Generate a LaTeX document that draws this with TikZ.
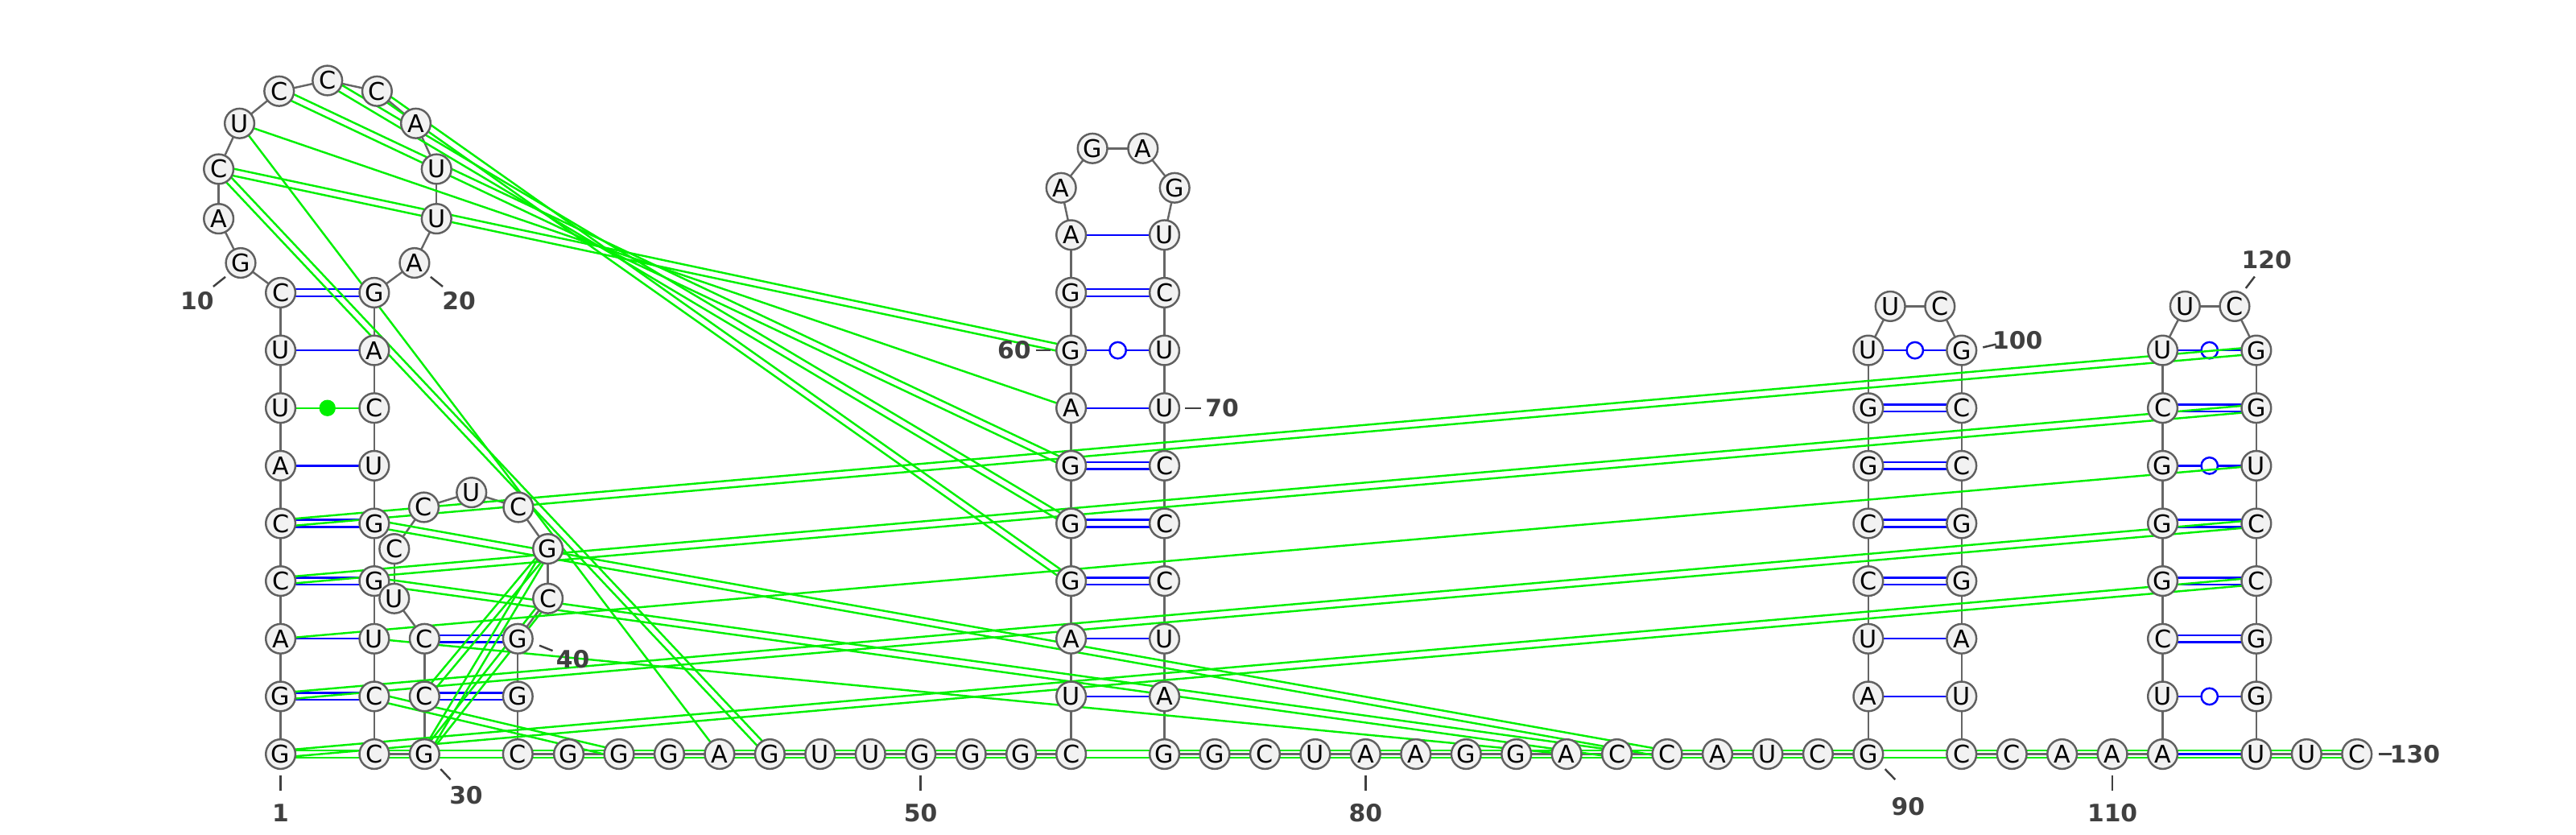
\documentclass[tikz,border=0pt]{standalone}
\usepackage{fontspec}
\setmainfont{DejaVu Sans}
\usetikzlibrary{calc}
\pgfdeclarelayer{background}
\pgfsetlayers{background,main}
\definecolor{grn}{RGB}{0,240,0}
\definecolor{blu}{RGB}{0,0,255}
\definecolor{bbgrey}{RGB}{102,102,102}
\definecolor{ntfill}{RGB}{242,242,242}
\definecolor{ntdraw}{RGB}{96,96,96}
\definecolor{numcol}{RGB}{64,64,64}
\def\pairoff{1.05pt}
\newcommand{\bpS}[2]{\draw[bpl] (n#1.center) -- (n#2.center);}
\newcommand{\bpD}[2]{%
  \draw[bpl] ($(n#1.center)!\pairoff!90:(n#2.center)$) -- ($(n#2.center)!\pairoff!-90:(n#1.center)$);
  \draw[bpl] ($(n#1.center)!\pairoff!-90:(n#2.center)$) -- ($(n#2.center)!\pairoff!90:(n#1.center)$);}
\newcommand{\bpW}[2]{\draw[bpl] (n#1.center) -- (n#2.center);
  \node[wob] (w#1) at ($(n#1.center)!0.5!(n#2.center)$) {};}
\newcommand{\gpS}[2]{\draw[gpl] (n#1.center) -- (n#2.center);}
\newcommand{\gpD}[2]{%
  \draw[gpl] ($(n#1.center)!\pairoff!90:(n#2.center)$) -- ($(n#2.center)!\pairoff!-90:(n#1.center)$);
  \draw[gpl] ($(n#1.center)!\pairoff!-90:(n#2.center)$) -- ($(n#2.center)!\pairoff!90:(n#1.center)$);}
\begin{document}
\begin{tikzpicture}[x=0.5pt,y=-0.5pt,
  nt/.style={circle,draw=ntdraw,fill=ntfill,line width=0.6pt,minimum size=9pt,inner sep=0pt,font=\fontsize{7.4}{8}\selectfont},
  bb/.style={draw=bbgrey,line width=0.6pt},
  bpl/.style={draw=blu,line width=0.6pt},
  gpl/.style={draw=grn,line width=0.6pt},
  wob/.style={circle,draw=blu,fill=white,line width=0.6pt,minimum size=5pt,inner sep=0pt},
  gdot/.style={circle,fill=grn,minimum size=5pt,inner sep=0pt},
  num/.style={font=\bfseries\fontsize{7.3}{8}\selectfont,text=numcol,inner sep=0pt},
  tick/.style={draw=numcol,line width=0.6pt}]
\useasboundingbox (0,0) rectangle (1568,508);
\foreach \a/\b/\c/\d in {
 1/170.8/458.9/G, 2/170.8/423.8/G, 3/170.8/388.7/A, 4/170.8/353.6/C, 5/170.8/318.5/C,
 6/170.8/283.4/A, 7/170.8/248.3/U, 8/170.8/213.2/U, 9/170.8/178.1/C, 10/146.5/160/G,
 11/133.1/133.1/A, 12/133.1/102.9/C, 13/145.8/75.1/U, 14/169.9/55.5/C, 15/199.3/49/C,
 16/229.5/55.5/C, 17/253.1/75.1/A, 18/265.7/102.9/U, 19/265.7/133.1/U, 20/252.3/160/A,
 21/227.8/178.1/G, 22/227.8/213.2/A, 23/227.8/248.3/C, 24/227.8/283.4/U, 25/227.8/318.5/G,
 26/227.8/353.6/G, 27/227.8/388.7/U, 28/227.8/423.8/C, 29/227.8/458.9/C, 30/258.4/458.9/G,
 31/258.4/423.8/C, 32/258.4/388.7/C, 33/240/364.2/U, 34/240/334/C, 35/258/308.7/C,
 36/287/299.7/U, 37/315.5/308.7/C, 38/333.5/334/G, 39/333.5/364.2/C, 40/315.2/388.7/G,
 41/315.2/423.8/G, 42/315.2/458.9/C, 43/346.2/458.9/G, 44/376.8/458.9/G, 45/407.4/458.9/G,
 46/438/458.9/A, 47/468.6/458.9/G, 48/499.2/458.9/U, 49/529.8/458.9/U, 50/560.4/458.9/G,
 51/591/458.9/G, 52/621.6/458.9/G, 53/652/458.9/C, 54/652/423.8/U, 55/652/388.7/A,
 56/652/353.6/G, 57/652/318.5/G, 58/652/283.4/G, 59/652/248.3/A, 60/652/213.2/G,
 61/652/178.1/G, 62/652/143/A, 63/645.9/114.3/A, 64/665/90.3/G, 65/695.7/90.3/A,
 66/715/114.3/G, 67/708.8/143/U, 68/708.8/178.1/C, 69/708.8/213.2/U, 70/708.8/248.3/U,
 71/708.8/283.4/C, 72/708.8/318.5/C, 73/708.8/353.6/C, 74/708.8/388.7/U, 75/708.8/423.8/A,
 76/708.8/458.9/G, 77/739.4/458.9/G, 78/770/458.9/C, 79/800.6/458.9/U, 80/831.2/458.9/A,
 81/861.8/458.9/A, 82/892.4/458.9/G, 83/923/458.9/G, 84/953.6/458.9/A, 85/984.2/458.9/C,
 86/1014.8/458.9/C, 87/1045.4/458.9/A, 88/1076/458.9/U, 89/1106.6/458.9/C, 90/1137.2/458.9/G,
 91/1137.2/423.8/A, 92/1137.2/388.7/U, 93/1137.2/353.6/C, 94/1137.2/318.5/C, 95/1137.2/283.4/G,
 96/1137.2/248.3/G, 97/1137.2/213.2/U, 98/1150.6/186.4/U, 99/1180.8/186.4/C, 100/1194/213.2/G,
 101/1194/248.3/C, 102/1194/283.4/C, 103/1194/318.5/G, 104/1194/353.6/G, 105/1194/388.7/A,
 106/1194/423.8/U, 107/1194/458.9/C, 108/1224.6/458.9/C, 109/1255.2/458.9/A, 110/1285.8/458.9/A,
 111/1316.4/458.9/A, 112/1316.4/423.8/U, 113/1316.4/388.7/C, 114/1316.4/353.6/G, 115/1316.4/318.5/G,
 116/1316.4/283.4/G, 117/1316.4/248.3/C, 118/1316.4/213.2/U, 119/1330/186.4/U, 120/1360.2/186.4/C,
 121/1373.4/213.2/G, 122/1373.4/248.3/G, 123/1373.4/283.4/U, 124/1373.4/318.5/C, 125/1373.4/353.6/C,
 126/1373.4/388.7/G, 127/1373.4/423.8/G, 128/1373.4/458.9/U, 129/1404/458.9/U, 130/1434.6/458.9/C}
 {\node[nt] (n\a) at (\b,\c) {\d};}
% numbering
\node[num] (l1) at (170.8,494.5) {1};
\draw[tick] (170.8,472) coordinate (t1a) -- (170.8,481) coordinate (t1b);
\node[num] (l10) at (120,183) {10};
\draw[tick] (129.8,174.4) coordinate (t10a) -- (137.2,168.5) coordinate (t10b);
\node[num] (l20) at (279.3,183) {20};
\draw[tick] (262.1,168.5) coordinate (t20a) -- (269.5,174.4) coordinate (t20b);
\node[num] (l30) at (283.7,484) {30};
\draw[tick] (268.2,468) coordinate (t30a) -- (274.2,474.4) coordinate (t30b);
\node[num] (l40) at (348.7,401) {40};
\draw[tick] (328.3,392.8) coordinate (t40a) -- (336.4,396) coordinate (t40b);
\node[num] (l50) at (560.4,494.5) {50};
\draw[tick] (560.4,472) coordinate (t50a) -- (560.4,481) coordinate (t50b);
\node[num] (l60) at (617.3,213.2) {60};
\draw[tick] (630.4,213.2) coordinate (t60a) -- (639.4,213.2) coordinate (t60b);
\node[num] (l70) at (743.9,248.3) {70};
\draw[tick] (721.5,248.3) coordinate (t70a) -- (731.3,248.3) coordinate (t70b);
\node[num] (l80) at (831.2,494.5) {80};
\draw[tick] (831.2,472) coordinate (t80a) -- (831.2,481) coordinate (t80b);
\node[num] (l90) at (1161.5,491) {90};
\draw[tick] (1147.4,468) coordinate (t90a) -- (1153.6,474.4) coordinate (t90b);
\node[num] (l100) at (1228,207) {100};
\draw[tick] (1207,211.4) coordinate (t100a) -- (1215,209.5) coordinate (t100b);
\node[num] (l110) at (1285.8,494.5) {110};
\draw[tick] (1285.8,472) coordinate (t110a) -- (1285.8,481) coordinate (t110b);
\node[num] (l120) at (1379.7,158) {120};
\draw[tick] (1367,175.4) coordinate (t120a) -- (1372.4,168.3) coordinate (t120b);
\node[num] (l130) at (1470,458.9) {130};
\draw[tick] (1447.8,458.9) coordinate (t130a) -- (1456,458.9) coordinate (t130b);
\begin{pgfonlayer}{background}
\fill[white] (0,0) rectangle (1568,508);
% backbone
\foreach \i in {1,...,129}{\pgfmathtruncatemacro\j{\i+1}\draw[bb] (n\i.center) -- (n\j.center);}
% canonical pairs
\bpD{9}{21} \bpS{8}{22} \bpS{6}{24} \bpD{5}{25} \bpD{4}{26} \bpS{3}{27} \bpD{2}{28}
\bpD{31}{41} \bpD{32}{40}
\bpS{54}{75} \bpS{55}{74} \bpD{56}{73} \bpD{57}{72} \bpD{58}{71} \bpS{59}{70} \bpW{60}{69} \bpD{61}{68} \bpS{62}{67}
\bpS{91}{106} \bpS{92}{105} \bpD{93}{104} \bpD{94}{103} \bpD{95}{102} \bpD{96}{101} \bpW{97}{100}
\bpS{111}{128} \bpW{112}{127} \bpD{113}{126} \bpD{114}{125} \bpD{115}{124} \bpW{116}{123} \bpD{117}{122} \bpW{118}{121}
% alternative pairs
\gpS{7}{23}
\node[gdot] (d7) at ($(n7.center)!0.5!(n23.center)$) {};
\gpD{1}{130} \gpD{1}{125} \gpD{2}{124} \gpS{3}{123} \gpD{4}{122} \gpD{5}{121}
\gpD{12}{60} \gpS{13}{59} \gpD{14}{58} \gpD{15}{57} \gpD{16}{56}
\gpD{12}{47} \gpS{13}{46}
\gpD{25}{86} \gpD{26}{85} \gpS{27}{84} \gpD{28}{44}
\gpD{30}{38} \gpD{30}{39} \gpD{31}{38}
\end{pgfonlayer}
\end{tikzpicture}
\end{document}
